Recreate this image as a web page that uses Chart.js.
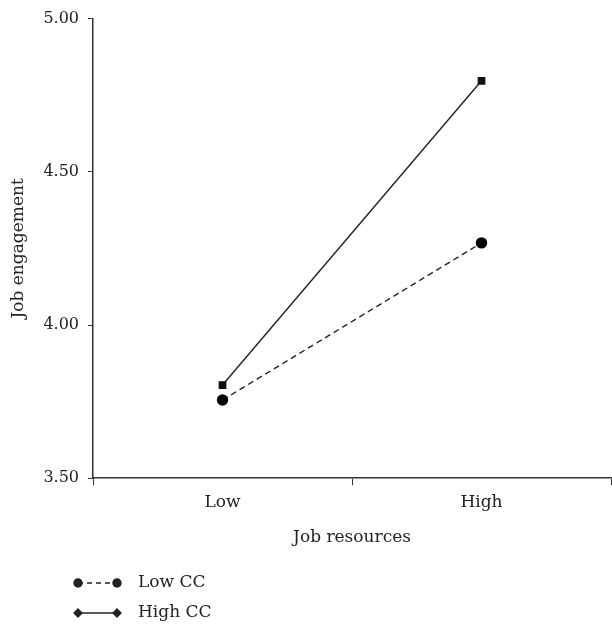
<!DOCTYPE html>
<html>
<head>
<meta charset="utf-8">
<script src="https://cdn.jsdelivr.net/npm/chart.js@4"></script>
<style>
html,body{margin:0;padding:0;background:#fff;}
#wrap{width:612px;height:633px;position:relative;}
</style>
</head>
<body>
<div id="wrap"><canvas id="c" width="612" height="633"></canvas></div>
<script>
const categories = ["Low", "High"];
const lowCC = [3.755, 4.268];
const highCC = [3.804, 4.797];
const yTicks = [3.5, 4.0, 4.5, 5.0];
const seriesNames = ["Low CC", "High CC"];

const FONT = "'DejaVu Serif', serif";
const INK = "#222";

const legendPlugin = {
  id: 'customLegend',
  afterDraw(chart) {
    const ctx = chart.ctx;
    ctx.save();
    const rows = [
      {y: 583, dash: [5, 4], style: 'circle', label: seriesNames[0]},
      {y: 613, dash: [], style: 'rectRot', label: seriesNames[1]}
    ];
    rows.forEach(r => {
      ctx.strokeStyle = INK; ctx.fillStyle = INK; ctx.lineWidth = 1.4;
      ctx.setLineDash(r.dash);
      ctx.beginPath(); ctx.moveTo(78, r.y); ctx.lineTo(117, r.y); ctx.stroke();
      ctx.setLineDash([]);
      [78, 117].forEach(x => {
        Chart.helpers.drawPoint(ctx, {pointStyle: r.style, radius: 4, rotation: 0, borderWidth: 1}, x, r.y);
        ctx.fill();
      });
      ctx.font = "17px " + FONT;
      ctx.textBaseline = 'middle';
      ctx.textAlign = 'left';
      ctx.fillText(r.label, 138, r.y);
    });
    ctx.restore();
  }
};

new Chart(document.getElementById('c'), {
  type: 'line',
  data: {
    labels: categories,
    datasets: [
      {label: seriesNames[0], data: lowCC, borderColor: INK, backgroundColor: INK, borderWidth: 1.4,
       borderDash: [6, 4], pointStyle: 'circle', pointRadius: 5, pointBackgroundColor: '#000', pointBorderColor: '#000'},
      {label: seriesNames[1], data: highCC, borderColor: INK, backgroundColor: INK, borderWidth: 1.4,
       pointStyle: 'rect', pointRadius: 4.5, pointBackgroundColor: '#111', pointBorderColor: '#111'}
    ]
  },
  options: {
    responsive: false,
    animation: false,
    layout: {autoPadding: false, padding: {left: 4, right: 1, top: 15, bottom: 81}},
    plugins: {legend: {display: false}, tooltip: {enabled: false}},
    scales: {
      x: {
        offset: true,
        grid: {offset: true, drawOnChartArea: false, drawTicks: true, tickLength: 7, color: '#333'},
        border: {color: '#333', width: 1.5},
        ticks: {color: INK, font: {family: FONT, size: 17}, padding: 7},
        title: {display: true, text: 'Job resources', color: INK, font: {family: FONT, size: 17}, padding: {top: 8}}
      },
      y: {
        min: 3.5, max: 5.0,
        afterBuildTicks(axis) { axis.ticks = yTicks.map(v => ({value: v})); },
        grid: {drawOnChartArea: false, drawTicks: true, tickLength: 5, color: '#333'},
        border: {color: '#333', width: 1.5},
        ticks: {color: INK, font: {family: FONT, size: 16}, padding: 9, callback: v => Number(v).toFixed(2)},
        title: {display: true, text: 'Job engagement', color: INK, font: {family: FONT, size: 17}, padding: {bottom: 6}}
      }
    }
  },
  plugins: [legendPlugin]
});
</script>
</body>
</html>
